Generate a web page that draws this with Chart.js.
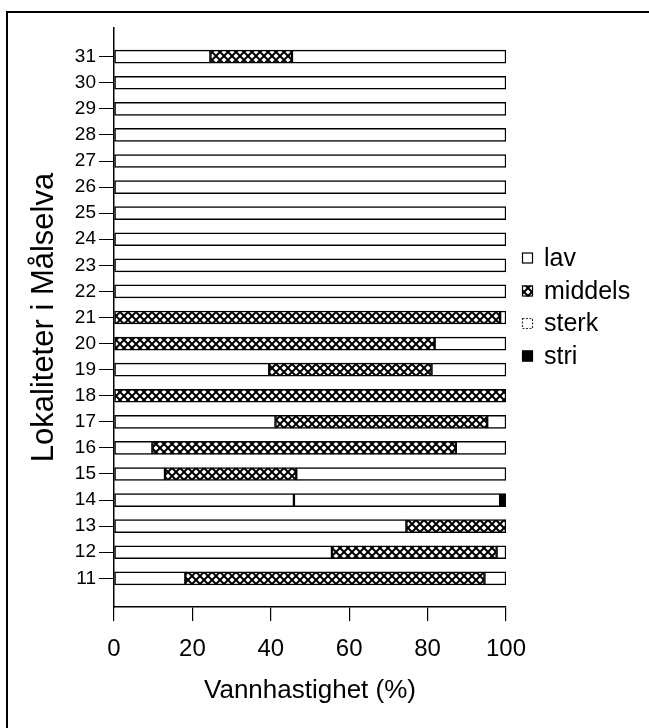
<!DOCTYPE html>
<html>
<head>
<meta charset="utf-8">
<script src="https://cdn.jsdelivr.net/npm/chart.js@4.4.1/dist/chart.umd.min.js"></script>
<style>
  html, body { margin: 0; padding: 0; background: #fff; }
  #wrap { width: 649px; height: 728px; }
</style>
</head>
<body>
<div id="wrap"><canvas id="c" width="649" height="728"></canvas></div>
<script>
// ---- data ----
const categories = [11, 12, 13, 14, 15, 16, 17, 18, 19, 20, 21, 22, 23, 24, 25, 26, 27, 28, 29, 30, 31];
const lav     = [18.2, 55.6, 74.6, 45.9, 13.0,  9.8, 41.2,   0, 39.6,    0,    0, 100, 100, 100, 100, 100, 100, 100, 100, 100, 24.6];
const middels = [76.3, 42.0, 25.4,    0, 33.5, 77.4, 54.0, 100, 41.4, 81.8, 98.5,   0,   0,   0,   0,   0,   0,   0,   0,   0, 20.8];
const sterk   = [ 5.5,  2.4,    0, 52.6, 53.5, 12.8,  4.8,   0, 19.0, 18.2,  1.5,   0,   0,   0,   0,   0,   0,   0,   0,   0, 54.6];
const stri    = [   0,    0,    0,  1.5,    0,    0,    0,   0,    0,    0,    0,   0,   0,   0,   0,   0,   0,   0,   0,   0,    0];
const seriesNames = ['lav', 'middels', 'sterk', 'stri'];
const xTicks = [0, 20, 40, 60, 80, 100];
const xTitle = 'Vannhastighet (%)';
const yTitle = 'Lokaliteter i Målselva';

// ---- crosshatch pattern ----
function makeHatch() {
  const s = 8;
  const c = document.createElement('canvas');
  c.width = s; c.height = s;
  const g = c.getContext('2d');
  g.fillStyle = '#fff';
  g.fillRect(0, 0, s, s);
  g.strokeStyle = '#000';
  g.lineWidth = 2;
  g.beginPath();
  g.moveTo(-1, -1); g.lineTo(s + 1, s + 1);
  g.moveTo(-1, s + 1); g.lineTo(s + 1, -1);
  g.stroke();
  return document.getElementById('c').getContext('2d').createPattern(c, 'repeat');
}
const hatch = makeHatch();

const fills = ['#ffffff', hatch, '#ffffff', '#000000'];
const values = [lav, middels, sterk, stri];

const datasets = seriesNames.map((name, k) => ({
  label: name,
  data: categories.map((c, i) => ({ x: values[k][i], y: c })),
  backgroundColor: fills[k],
  borderColor: '#000',
  borderWidth: 1.5,
  borderSkipped: false,
  barThickness: 13,
  stack: 'all'
}));

const FONT = '"Liberation Sans", Arial, Helvetica, sans-serif';

const framePlugin = {
  id: 'frame',
  beforeDraw(chart) {
    const ctx = chart.ctx;
    ctx.save();
    ctx.fillStyle = '#fff';
    ctx.fillRect(0, 0, chart.width, chart.height);
    ctx.strokeStyle = '#000';
    ctx.lineWidth = 2;
    ctx.beginPath();
    ctx.moveTo(7, 728);
    ctx.lineTo(7, 12);
    ctx.lineTo(649, 12);
    ctx.stroke();
    ctx.restore();
  }
};

const legendPlugin = {
  id: 'customLegend',
  afterDraw(chart) {
    const ctx = chart.ctx;
    ctx.save();
    const rows = [258, 291, 323.5, 356];
    chart.data.datasets.forEach((ds, k) => {
      const cy = rows[k];
      const bx = 522, bs = 11;
      ctx.fillStyle = ds.backgroundColor;
      ctx.fillRect(bx, cy - bs / 2, bs, bs);
      ctx.lineWidth = 1.2;
      ctx.strokeStyle = '#000';
      if (ds.label === 'sterk') { ctx.setLineDash([2, 1.5]); ctx.strokeStyle = '#333'; }
      ctx.strokeRect(bx + 0.5, cy - bs / 2 + 0.5, bs - 1, bs - 1);
      ctx.setLineDash([]);
      ctx.fillStyle = '#000';
      ctx.font = '25px ' + FONT;
      ctx.textBaseline = 'middle';
      ctx.textAlign = 'left';
      ctx.fillText(ds.label, 544, cy + 1);
    });
    ctx.restore();
  }
};

new Chart(document.getElementById('c'), {
  type: 'bar',
  data: { datasets },
  options: {
    indexAxis: 'y',
    responsive: false,
    animation: false,
    layout: { padding: { top: 28, right: 143, left: 0, bottom: 0 } },
    plugins: { legend: { display: false }, tooltip: { enabled: false } },
    scales: {
      x: {
        type: 'linear',
        stacked: true,
        min: 0, max: 100,
        afterBuildTicks(axis) { axis.ticks = xTicks.map(v => ({ value: v })); },
        afterFit(scale) { scale.height = 121; },
        grid: { drawOnChartArea: false, drawTicks: true, tickLength: 14, color: '#000', lineWidth: 1.2, offset: false },
        border: { display: true, color: '#000', width: 1.5 },
        ticks: { color: '#000', font: { family: FONT, size: 24 }, padding: 14, maxRotation: 0 },
        title: { display: true, text: xTitle, color: '#000', font: { family: FONT, size: 26 }, padding: { top: 4, bottom: 22 } }
      },
      y: {
        type: 'linear',
        stacked: true,
        offset: false,
        min: 9.9, max: 32.1,
        afterBuildTicks(axis) { axis.ticks = categories.map(v => ({ value: v })); },
        afterFit(scale) { scale.width = 114; },
        grid: { drawOnChartArea: false, drawTicks: true, tickLength: 15, color: '#000', lineWidth: 1, offset: false },
        border: { display: true, color: '#000', width: 1.5 },
        ticks: { color: '#000', font: { family: FONT, size: 19 }, padding: 3, autoSkip: false, callback: v => String(v) },
        title: { display: true, text: yTitle, color: '#000', font: { family: FONT, size: 31 }, padding: { top: 26, bottom: 0 } }
      }
    }
  },
  plugins: [framePlugin, legendPlugin]
});
</script>
</body>
</html>
